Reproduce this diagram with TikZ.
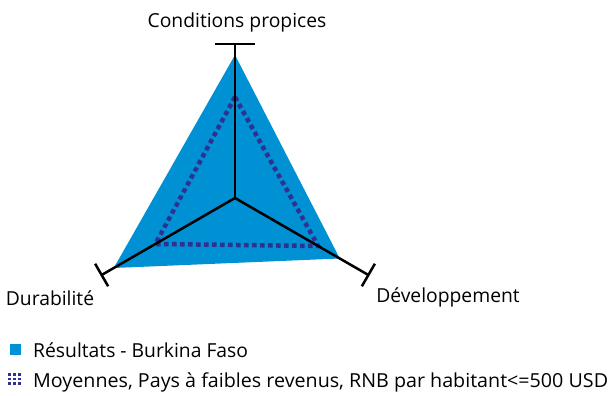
\documentclass[tikz,border=0pt]{standalone}
\usepackage{fontspec}
\setmainfont{Open Sans}
\usepackage{tikz}
\usetikzlibrary{calc}
\definecolor{resblue}{RGB}{0,145,213}
\definecolor{moypurple}{RGB}{46,49,146}

\begin{document}
\begin{tikzpicture}[x=1pt,y=1pt,
    axisline/.style={line width=2.5pt,black},
    moyline/.style={moypurple,line width=4.5pt,dash pattern=on 4.5pt off 3.5pt},
    lab/.style={font=\fontsize{19.3}{22}\selectfont,inner sep=0pt}]
        \useasboundingbox (0,0) rectangle (611,396);
        \coordinate (c) at (235,198);
        \coordinate (cp) at ($(c)+(90:154)$);
        \coordinate (du) at ($(c)+(210:154)$);
        \coordinate (de) at ($(c)+(-30:154)$);
        % resultats Burkina Faso
        \fill[resblue] ($(c)+(90:143)$) -- ($(c)+(210:140)$) -- ($(c)+(-30:121)$) -- cycle;
        % moyennes
        \draw[moyline] ($(c)+(90:101)$) -- ($(c)+(210:92)$) -- ($(c)+(-30:96)$) -- cycle;
        % axes
        \draw[axisline] (c) -- (cp);
        \draw[axisline] (c) -- (du);
        \draw[axisline] (c) -- (de);
        \draw[axisline] ($(cp)+(-20,0)$) -- ($(cp)+(20,0)$);
        \draw[axisline] ($(du)+(120:13)$) -- ($(du)+(300:13)$);
        \draw[axisline] ($(de)+(60:13)$) -- ($(de)+(240:13)$);
        \node[lab] (cplab) at (237,374) {Conditions propices};
        \node[lab] (dulab) at (50,98) {Durabilité};
        \node[lab] (delab) at (448,99) {Développement};
        % legende
        \fill[resblue] (9.5,40.5) rectangle (20.5,51.5);
        \node[lab,anchor=west] (leg1) at (33,46) {Résultats - Burkina Faso};
        \foreach \i in {0,1,2}
          \foreach \j in {0,1,2}
            \fill[moypurple] ($(8,11)+(5*\i,4.5*\j)$) rectangle +(2.5,2.5);
        \node[lab,anchor=west,xscale=1.02] (leg2) at (33,14) {Moyennes, Pays à faibles revenus, RNB par habitant<=500 USD};
      \end{tikzpicture}
\end{document}
